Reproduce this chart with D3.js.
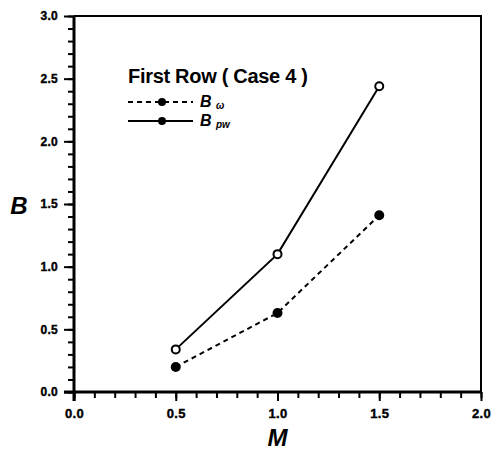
<!DOCTYPE html>
<html>
<head>
<meta charset="utf-8">
<script src="https://cdn.jsdelivr.net/npm/d3@7"></script>
<style>
  body { margin: 0; background: #fff; }
  svg { display: block; font-family: "Liberation Sans", Arial, sans-serif; }
</style>
</head>
<body>
<svg width="491" height="453"></svg>
<script>
// B against M, first row (case 4)
const width = 491;
const height = 453;
const margin = { top: 16, right: 10, bottom: 61, left: 74 };

const machValues = [0.5, 1.0, 1.5];
const bW = [0.2, 0.63, 1.41];
const bPw = [0.34, 1.1, 2.44];

const xTicks = [0.0, 0.5, 1.0, 1.5, 2.0];
const yTicks = [0.0, 0.5, 1.0, 1.5, 2.0, 2.5, 3.0];

const svg = d3.select("svg");

const x = d3.scaleLinear().domain([0, 2]).range([margin.left, width - margin.right]);
const y = d3.scaleLinear().domain([0, 3]).range([height - margin.bottom, margin.top]);

// frame (top + right)
svg.append("path")
  .attr("d", `M${x(0)},${y(3)}H${x(2)}V${y(0)}`)
  .attr("fill", "none")
  .attr("stroke", "#000")
  .attr("stroke-width", 2);

const minor = d3.range(0, 2.0001, 0.1);
const minorY = d3.range(0, 3.0001, 0.1);

// x axis
const xAxis = svg.append("g").attr("transform", `translate(0,${y(0)})`);
xAxis.call(d3.axisBottom(x).tickValues(minor).tickSize(6).tickFormat(""));
xAxis.call(g => g.selectAll(".domain").remove());
const xMajor = svg.append("g").attr("transform", `translate(0,${y(0)})`)
  .call(d3.axisBottom(x).tickValues(xTicks).tickSize(9).tickPadding(8).tickFormat(d3.format(".1f")));
xMajor.select(".domain").attr("stroke-width", 3).attr("d", `M${x(0) - 10},0H${x(2)}`);
xMajor.selectAll(".tick text").attr("font-size", 13).attr("letter-spacing", 0.3);

// y axis
const yAxis = svg.append("g").attr("transform", `translate(${x(0)},0)`);
yAxis.call(d3.axisLeft(y).tickValues(minorY).tickSize(6).tickFormat(""));
yAxis.call(g => g.selectAll(".domain").remove());
const yMajor = svg.append("g").attr("transform", `translate(${x(0)},0)`)
  .call(d3.axisLeft(y).tickValues(yTicks).tickSize(10).tickPadding(6).tickFormat(d3.format(".1f")));
yMajor.select(".domain").attr("stroke-width", 3).attr("d", `M0,${y(0) + 9}V${y(3)}`);
yMajor.selectAll(".tick text").attr("font-size", 12).attr("letter-spacing", 0.3);

svg.selectAll(".tick line").attr("stroke-width", 2);
svg.selectAll(".tick text")
  .attr("font-weight", "bold")
  .attr("fill", "#000")
  .attr("stroke", "#000")
  .attr("stroke-width", 0.4)
  .attr("font-family", "Liberation Sans, Arial, sans-serif");

// axis titles
svg.append("text")
  .attr("x", x(1))
  .attr("y", 446)
  .attr("text-anchor", "middle")
  .attr("font-size", 24)
  .attr("font-weight", "bold")
  .attr("font-style", "italic")
  .text("M");

svg.append("text")
  .attr("x", 19)
  .attr("y", 214)
  .attr("text-anchor", "middle")
  .attr("font-size", 24)
  .attr("font-weight", "bold")
  .attr("font-style", "italic")
  .text("B");

// series
const series = [
  { name: "w", values: bW, dash: "5,4", fill: "#000" },
  { name: "pw", values: bPw, dash: null, fill: "#fff" }
];

const line = d3.line().x(d => x(d[0])).y(d => y(d[1]));

series.forEach(s => {
  const pts = machValues.map((m, i) => [m, s.values[i]]);
  svg.append("path")
    .datum(pts)
    .attr("d", line)
    .attr("fill", "none")
    .attr("stroke", "#000")
    .attr("stroke-width", 2)
    .attr("stroke-dasharray", s.dash);
  svg.selectAll(null)
    .data(pts)
    .enter()
    .append("circle")
    .attr("cx", d => x(d[0]))
    .attr("cy", d => y(d[1]))
    .attr("r", 4)
    .attr("fill", s.fill)
    .attr("stroke", "#000")
    .attr("stroke-width", 2);
});

// legend
svg.append("text")
  .attr("x", 128)
  .attr("y", 83)
  .attr("font-size", 20)
  .attr("font-weight", "bold")
  .attr("letter-spacing", -0.3)
  .text("First Row ( Case 4 )");

const legendRows = [
  { dash: "5,4", y: 102, sub: "ω" },
  { dash: null, y: 121, sub: "pw" }
];

legendRows.forEach(r => {
  svg.append("line")
    .attr("x1", 128).attr("x2", 193)
    .attr("y1", r.y).attr("y2", r.y)
    .attr("stroke", "#000")
    .attr("stroke-width", 2)
    .attr("stroke-dasharray", r.dash);
  svg.append("circle")
    .attr("cx", 162).attr("cy", r.y).attr("r", 4)
    .attr("fill", "#000");
  const t = svg.append("text")
    .attr("x", 200)
    .attr("y", r.y + 5)
    .attr("font-size", 16)
    .attr("font-weight", "bold")
    .attr("font-style", "italic");
  t.append("tspan").text("B ");
  t.append("tspan")
    .attr("font-size", 10)
    .attr("dy", 2)
    .text(r.sub);
});
</script>
</body>
</html>
